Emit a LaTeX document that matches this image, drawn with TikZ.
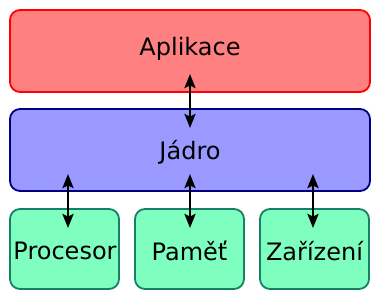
\documentclass[tikz,border=0pt]{standalone}
\usepackage{fontspec}
\setmainfont{DejaVu Sans}
\usetikzlibrary{arrows.meta}
\definecolor{appfill}{HTML}{FF8080}
\definecolor{appline}{HTML}{FF0000}
\definecolor{kernfill}{HTML}{9999FF}
\definecolor{kernline}{HTML}{000080}
\definecolor{hwfill}{HTML}{7FFFBF}
\definecolor{hwline}{HTML}{168066}
\begin{document}
\begin{tikzpicture}[x=1pt,y=-1pt,
  layer/.style={rounded corners=10pt, line width=1.8pt, inner sep=0pt},
  lbl/.style={font=\fontsize{24}{28}\selectfont, inner sep=0pt},
  link/.style={{Stealth[length=14pt,width=11pt,inset=2.5pt]}-{Stealth[length=14pt,width=11pt,inset=2.5pt]}, line width=2.6pt, black}]
  \useasboundingbox (0,0) rectangle (380,300);
  % layers
  \draw[layer, fill=appfill, draw=appline] (10,10) rectangle (370,92);
  \draw[layer, fill=kernfill, draw=kernline] (10,109) rectangle (370,191);
  \draw[layer, fill=hwfill, draw=hwline] (10,209) rectangle (119,289);
  \draw[layer, fill=hwfill, draw=hwline] (135,209) rectangle (244,289);
  \draw[layer, fill=hwfill, draw=hwline] (260,209) rectangle (369,289);
  % labels
  \node[lbl] (app) at (190,49) {Aplikace};
  \node[lbl] (kern) at (190,152.5) {Jádro};
  \node[lbl] (cpu) at (65,251) {Procesor};
  \node[lbl] (mem) at (189.5,251) {Paměť};
  \node[lbl] (dev) at (314.5,251) {Zařízení};
  % connection points
  \coordinate (a1) at (190,74);
  \coordinate (k1) at (190,128);
  \coordinate (k2) at (68,174);
  \coordinate (k3) at (190,174);
  \coordinate (k4) at (313,174);
  \coordinate (h1) at (68,228);
  \coordinate (h2) at (190,228);
  \coordinate (h3) at (313,228);
  \draw[link] (a1) -- (k1);
  \draw[link] (k2) -- (h1);
  \draw[link] (k3) -- (h2);
  \draw[link] (k4) -- (h3);
\end{tikzpicture}
\end{document}
